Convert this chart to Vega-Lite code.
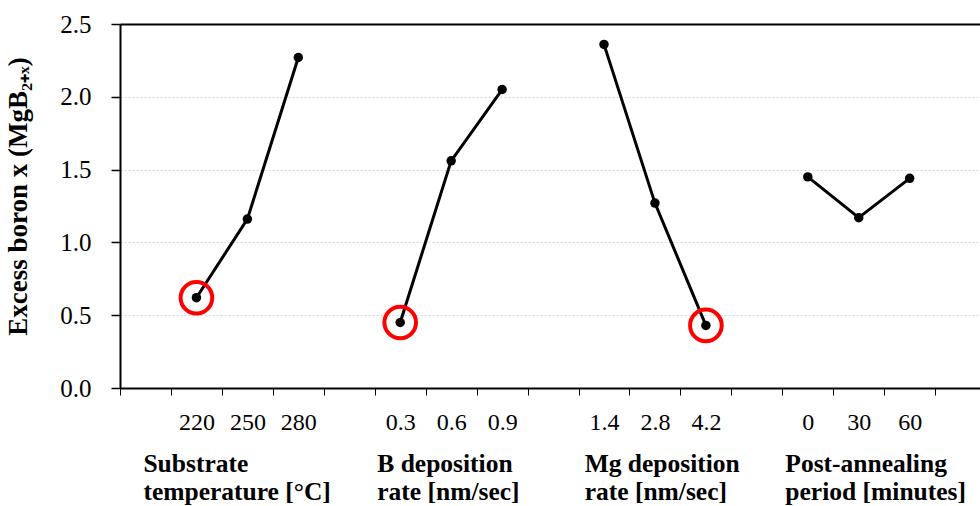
{
  "$schema": "https://vega.github.io/schema/vega-lite/v6.json",
  "autosize": "none",
  "width": 860,
  "height": 364,
  "padding": {"left": 120, "top": 24, "right": 0, "bottom": 118},
  "background": "white",
  "config": {
    "view": {"stroke": null},
    "font": "Liberation Serif, Times New Roman, serif",
    "axis": {"labelColor": "#000", "titleColor": "#000", "labelFont": "Liberation Serif, Times New Roman, serif", "titleFont": "Liberation Serif, Times New Roman, serif"}
  },
  "data": {
    "values": [
      {"group": "Substrate temperature", "setting": "220", "order": 1, "excess": 0.62, "best": true},
      {"group": "Substrate temperature", "setting": "250", "order": 2, "excess": 1.16, "best": false},
      {"group": "Substrate temperature", "setting": "280", "order": 3, "excess": 2.27, "best": false},
      {"group": "B deposition rate", "setting": "0.3", "order": 5, "excess": 0.45, "best": true},
      {"group": "B deposition rate", "setting": "0.6", "order": 6, "excess": 1.56, "best": false},
      {"group": "B deposition rate", "setting": "0.9", "order": 7, "excess": 2.05, "best": false},
      {"group": "Mg deposition rate", "setting": "1.4", "order": 9, "excess": 2.36, "best": false},
      {"group": "Mg deposition rate", "setting": "2.8", "order": 10, "excess": 1.27, "best": false},
      {"group": "Mg deposition rate", "setting": "4.2", "order": 11, "excess": 0.43, "best": true},
      {"group": "Post-annealing period", "setting": "0", "order": 13, "excess": 1.45, "best": false},
      {"group": "Post-annealing period", "setting": "30", "order": 14, "excess": 1.17, "best": false},
      {"group": "Post-annealing period", "setting": "60", "order": 15, "excess": 1.44, "best": false}
    ]
  },
  "encoding": {
    "y": {
      "field": "excess",
      "type": "quantitative",
      "scale": {"domain": [0, 2.5], "nice": false, "zero": true},
      "axis": {
        "values": [0, 0.5, 1, 1.5, 2, 2.5],
        "format": ".1f",
        "title": "Excess boron x (MgB₂₊ₓ)",
        "titleFontSize": 27,
        "titleFontWeight": "bold",
        "titlePadding": 27,
        "titleY": 172,
        "labelFontSize": 25,
        "labelPadding": 20,
        "tickSize": 9,
        "tickColor": "#000",
        "tickWidth": 1.5,
        "domainColor": "#000",
        "domainWidth": 2,
        "grid": true,
        "gridColor": "#d6d6d6",
        "gridDash": [2, 2],
        "gridWidth": 1
      }
    }
  },
  "layer": [
    {
      "mark": {"type": "line", "color": "#000", "strokeWidth": 3},
      "encoding": {
        "x": {
          "field": "order",
          "type": "quantitative",
          "scale": {"domain": [-0.5, 16.38], "nice": false, "zero": false},
          "axis": {
            "orient": "bottom",
            "title": null,
            "grid": false,
            "values": [-0.5, 0.5, 1.5, 2.5, 3.5, 4.5, 5.5, 6.5, 7.5, 8.5, 9.5, 10.5, 11.5, 12.5, 13.5, 14.5, 15.5],
            "labelExpr": "['', '220', '250', '280', '', '0.3', '0.6', '0.9', '', '1.4', '2.8', '4.2', '', '0', '30', '60', ''][round(datum.value + 0.5)]",
            "labelOffset": 25.5,
            "labelFontSize": 24,
            "labelPadding": 15,
            "labelBaseline": "top",
            "labelFlush": false,
            "labelOverlap": false,
            "labelBound": false,
            "tickSize": 7,
            "tickColor": "#000",
            "tickWidth": 1,
            "domainColor": "#000",
            "domainWidth": 2
          }
        },
        "detail": {"field": "group"}
      }
    },
    {
      "mark": {"type": "point", "filled": true, "color": "#000", "opacity": 1, "size": 90},
      "encoding": {
        "x": {
          "field": "order",
          "type": "quantitative",
          "axis": {
            "orient": "bottom",
            "title": null,
            "grid": false,
            "domain": false,
            "ticks": false,
            "values": [-0.05, 4.54, 8.61, 12.55],
            "labelExpr": "datum.value < 1 ? ['Substrate', 'temperature [°C]'] : datum.value < 6 ? ['B deposition', 'rate [nm/sec]'] : datum.value < 10 ? ['Mg deposition', 'rate [nm/sec]'] : ['Post-annealing', 'period [minutes]']",
            "labelAlign": "left",
            "labelBaseline": "top",
            "labelFontSize": 25.5,
            "labelFontWeight": "bold",
            "labelLineHeight": 28,
            "labelPadding": 63,
            "labelLimit": 0,
            "labelFlush": false,
            "labelOverlap": false,
            "labelBound": false
          }
        }
      }
    },
    {
      "transform": [{"filter": "datum.best"}],
      "mark": {"type": "point", "filled": false, "shape": "circle", "stroke": "#ff0000", "strokeWidth": 4, "opacity": 1, "size": 1000},
      "encoding": {
        "x": {
          "field": "order",
          "type": "quantitative",
          "axis": {
            "orient": "top",
            "title": null,
            "grid": false,
            "ticks": false,
            "labels": false,
            "domainColor": "#000",
            "domainWidth": 2
          }
        }
      }
    }
  ],
  "resolve": {"axis": {"x": "independent"}}
}
